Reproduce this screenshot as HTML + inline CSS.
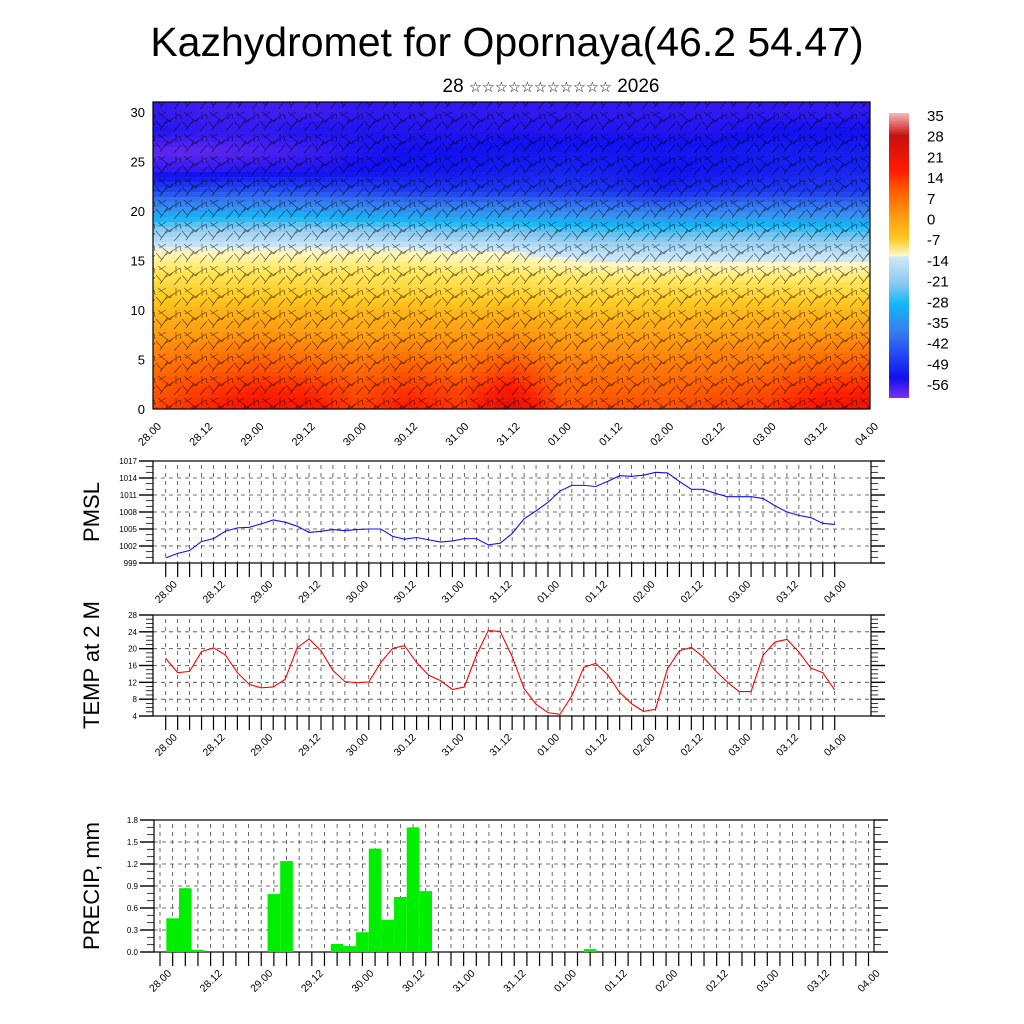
<!DOCTYPE html>
<html><head><meta charset="utf-8"><title>Kazhydromet for Opornaya</title>
<style>
html,body{margin:0;padding:0;background:#fff;width:1024px;height:1024px;overflow:hidden}
svg{display:block;font-family:"Liberation Sans","DejaVu Sans",sans-serif}
</style></head>
<body>
<svg id="chart" xmlns="http://www.w3.org/2000/svg" width="1024" height="1024" viewBox="0 0 1024 1024">
<defs>
<clipPath id="fieldClip"><rect x="153" y="102" width="717" height="307"/></clipPath>
<pattern id="barbs" width="26" height="22" patternUnits="userSpaceOnUse">
<g stroke="#000" stroke-width="0.7" stroke-opacity="0.6" fill="none">
<path d="M2 2 L14 12 M14 12 L17 8 M8 14 L24 4 M24 4 L25 9 M4 20 L12 9 M18 21 L25 13 M0 11 L6 18 M20 2 L20 10 M10 2 L3 6"/>
</g>
</pattern>
<linearGradient id="cbar" x1="0" y1="0" x2="0" y2="1">
<stop offset="0" stop-color="#f8b8b8"/><stop offset="0.08" stop-color="#c81010"/>
<stop offset="0.2" stop-color="#ff1a00"/><stop offset="0.27" stop-color="#ff5a00"/>
<stop offset="0.36" stop-color="#ff9a10"/><stop offset="0.44" stop-color="#ffc820"/>
<stop offset="0.5" stop-color="#fff8c8"/><stop offset="0.505" stop-color="#d0e8f8"/>
<stop offset="0.6" stop-color="#88c8f0"/><stop offset="0.67" stop-color="#10b8f8"/>
<stop offset="0.76" stop-color="#3880f0"/><stop offset="0.86" stop-color="#2040f0"/>
<stop offset="0.93" stop-color="#1010f0"/><stop offset="1" stop-color="#8030f0"/>
</linearGradient>
</defs>
<text x="507" y="56" font-size="41" text-anchor="middle">Kazhydromet for Opornaya(46.2 54.47)</text>
<text x="551" y="92" font-size="19" text-anchor="middle">28 <tspan font-size="14.5">☆☆☆☆☆☆☆☆☆☆☆</tspan> 2026</text>
<g id="contour"></g>
<g id="colorbar">
<rect x="889" y="113" width="20" height="285" fill="url(#cbar)"/>
</g>
<g id="pmsl"></g>
<g id="temp"></g>
<g id="precip"></g>
<text transform="translate(99,512) rotate(-90)" font-size="22" text-anchor="middle">PMSL</text>
<text transform="translate(99,665) rotate(-90)" font-size="22" text-anchor="middle">TEMP at 2 M</text>
<text transform="translate(99,886) rotate(-90)" font-size="22" text-anchor="middle">PRECIP, mm</text>
</svg>
<script>
// ---- data ----
const timeLabels = ['28.00','28.12','29.00','29.12','30.00','30.12','31.00','31.12','01.00','01.12','02.00','02.12','03.00','03.12','04.00'];
const pmslValues = [999.9,1000.7,1001.2,1002.8,1003.3,1004.6,1005.2,1005.3,1005.9,1006.6,1006.2,1005.5,1004.4,1004.6,1004.9,1004.7,1004.9,1005.0,1005.0,1003.7,1003.2,1003.5,1003.1,1002.7,1002.9,1003.3,1003.3,1002.2,1002.5,1004.2,1006.8,1008.2,1009.7,1011.7,1012.7,1012.7,1012.5,1013.4,1014.4,1014.3,1014.5,1015.0,1014.9,1013.4,1012.0,1012.0,1011.3,1010.7,1010.7,1010.7,1010.4,1009.1,1008.0,1007.4,1007.0,1006.0,1005.8];
const pmslTicks = [999,1002,1005,1008,1011,1014,1017];
const tempValues = [17.7,14.3,14.6,19.3,20.2,18.5,14.3,11.5,10.7,10.9,12.7,20.2,22.3,19.5,14.8,12.2,11.9,12.1,16.7,20.1,20.7,16.7,13.7,12.4,10.3,10.9,18.4,24.3,24.1,18.1,10.5,6.8,4.8,4.4,8.8,15.6,16.5,13.8,9.6,6.9,5.1,5.6,15.2,19.5,20.3,18.0,14.8,12.1,9.8,9.8,18.4,21.6,22.2,19.2,15.4,14.3,10.2];
const tempTicks = [4,8,12,16,20,24,28];
const precipIndex = [1,2,3,9,10,14,15,16,17,18,19,20,21,34];
const precipValues = [0.46,0.87,0.03,0.79,1.24,0.11,0.08,0.27,1.41,0.44,0.75,1.70,0.83,0.04];
const precipTicks = ['0.0','0.3','0.6','0.9','1.2','1.5','1.8'];
const heightTicks = [0,5,10,15,20,25,30];
const cbarLabels = ['35','28','21','14','7','0','-7','-14','-21','-28','-35','-42','-49','-56'];
const fieldLevels = [0,2,4,6,8,10,12,14,16,18,20,22,24,26,28,30];
const fieldTemps = [
[16,20,24,23,17,22,18,28,15,16,15,17,18,24,25],
[14,17,20,19,15,18,16,22,13,13,13,14,15,19,20],
[12,13,15,14,12,14,12,16,11,11,11,11,12,14,15],
[9,10,11,10,9,10,9,11,8,8,8,9,9,10,11],
[6,6,7,6,5,6,6,7,5,5,5,5,6,6,7],
[2,3,3,3,2,3,2,3,1,1,1,2,2,2,2],
[-2,-2,-2,-2,-3,-3,-3,-3,-4,-4,-4,-4,-4,-4,-4],
[-7,-7,-7,-7,-7,-7,-8,-8,-9,-10,-10,-10,-10,-10,-10],
[-12,-12,-12,-12,-12,-12,-13,-13,-15,-16,-16,-16,-16,-16,-16],
[-20,-19,-19,-19,-20,-21,-22,-22,-24,-25,-25,-24,-24,-25,-25],
[-34,-33,-32,-33,-34,-35,-36,-36,-37,-38,-40,-38,-37,-38,-38],
[-48,-47,-46,-47,-48,-50,-50,-50,-50,-51,-53,-51,-50,-50,-50],
[-58,-58,-57,-57,-56,-55,-55,-54,-53,-54,-56,-55,-54,-53,-53],
[-61,-61,-60,-59,-57,-56,-56,-55,-55,-55,-55,-55,-54,-54,-54],
[-57,-58,-58,-57,-57,-57,-57,-57,-57,-57,-57,-57,-56,-56,-56],
[-58,-59,-59,-59,-58,-58,-58,-58,-58,-58,-58,-58,-58,-58,-58]
];
// ---- helpers ----
const NS='http://www.w3.org/2000/svg';
function mk(tag,attrs,parent){const e=document.createElementNS(NS,tag);for(const k in attrs)e.setAttribute(k,attrs[k]);parent.appendChild(e);return e;}
function hex(c){return [parseInt(c.slice(1,3),16),parseInt(c.slice(3,5),16),parseInt(c.slice(5,7),16)];}
const cmapV=[38,30,21,14,7,0,-7,-12,-13,-21,-28,-35,-42,-49,-56,-63];
const cmapC=['#f8b8b8','#c81010','#ff1a00','#ff5a00','#ff9a10','#ffc820','#ffe860','#fff8c8','#d0e8f8','#88c8f0','#10b8f8','#3890f0','#3070f0','#2040f0','#1010f0','#8030f0'];
function colorOf(v){
  if(v>=cmapV[0])return cmapC[0];
  for(let i=0;i<cmapV.length-1;i++){
    if(v<=cmapV[i]&&v>=cmapV[i+1]){const t=(cmapV[i]-v)/(cmapV[i]-cmapV[i+1]);const a=hex(cmapC[i]),b=hex(cmapC[i+1]);
      return 'rgb('+a.map((x,j)=>Math.round(x+(b[j]-x)*t)).join(',')+')';}
  }
  return cmapC[cmapC.length-1];
}
// ---- contour panel ----
(function(){
  const g=document.getElementById('contour');
  const L=153,R=870,T=102,B=409;
  const xS=i=>L+i*(R-L)/14;
  const yS=z=>B-z*9.9;
  const field=mk('g',{'clip-path':'url(#fieldClip)'},g);
  
  
  const cw=6,ch=5;
  for(let py=T;py<B;py+=ch){
    const z=Math.min(30,Math.max(0,(B-(py+ch/2))/9.9));
    let k=0;while(k<fieldLevels.length-2&&z>fieldLevels[k+1])k++;
    const tz=(z-fieldLevels[k])/(fieldLevels[k+1]-fieldLevels[k]);
    for(let px=L;px<R;px+=cw){
      const ti=Math.min(14,((px+cw/2)-L)/((R-L)/14));
      const c=Math.min(13,Math.floor(ti)),tt=ti-c;
      const v0=fieldTemps[k][c]+(fieldTemps[k][c+1]-fieldTemps[k][c])*tt;
      const v1=fieldTemps[k+1][c]+(fieldTemps[k+1][c+1]-fieldTemps[k+1][c])*tt;
      const r=mk('rect',{x:px,y:py,width:cw+0.6,height:ch+0.6,fill:colorOf(v0+(v1-v0)*tz)},field);
      
      
    }
  }
  const barbs=mk('rect',{x:L,y:T,width:R-L,height:B-T,fill:'url(#barbs)'},g);
  
  
  const fr=mk('rect',{x:L,y:T,width:R-L,height:B-T,fill:'none',stroke:'#000','stroke-width':1.2},g);
  
  
  heightTicks.forEach(h=>{
    const t=mk('text',{x:L-8,y:yS(h)+5,'font-size':13,'text-anchor':'end'},g);t.textContent=h;
    
    
  });
  timeLabels.forEach((lab,i)=>{
    const x=xS(i);
    const t=mk('text',{transform:'translate('+(x+9)+',427) rotate(-45)','font-size':11,'text-anchor':'end'},g);t.textContent=lab;
    
    
  });
})();
(function(){
  const g=document.getElementById('colorbar');
  cbarLabels.forEach((lab,i)=>{
    const t=mk('text',{x:927,y:121+i*20.7,'font-size':15},g);t.textContent=lab;
    
    
  });
})();
function axesPanel(g,o){
  const {L,R,T,B,ymin,ymax,majors,minorStep,x0,dx}=o;
  const yS=v=>B-(v-ymin)/(ymax-ymin)*(B-T);
  const grid=mk('g',{stroke:'#444','stroke-width':0.8,'stroke-dasharray':'4,4',fill:'none'},g);
  
  
  for(let i=0;i<=56;i++){const x=x0+i*dx;const l=mk('line',{x1:x,x2:x,y1:T+4,y2:B},grid);
    
    }
  majors.forEach(m=>{const v=parseFloat(m);if(v>ymin&&v<ymax){const l=mk('line',{x1:L,x2:R,y1:yS(v),y2:yS(v)},grid);
    
    }});
  const ax=mk('g',{stroke:'#000',fill:'none'},g);
  
  
  for(let v=ymin;v<=ymax+1e-6;v+=minorStep){
    const isMaj=majors.some(m=>Math.abs(parseFloat(m)-v)<1e-6);
    const len=isMaj?14:7,w=isMaj?1.4:0.8;
    const a=mk('line',{x1:L-len,x2:L,y1:yS(v),y2:yS(v),'stroke-width':w},ax);
    
    
    const b=mk('line',{x1:R,x2:R+len,y1:yS(v),y2:yS(v),'stroke-width':w},ax);
    
    
  }
  majors.forEach(m=>{const t=mk('text',{x:L-16,y:yS(parseFloat(m))+3,'font-size':8,'text-anchor':'end',fill:'#000',stroke:'none'},g);t.textContent=m;
    
    });
  for(let i=0;i<=56;i++){const x=x0+i*dx;const l=mk('line',{x1:x,x2:x,y1:B,y2:B+14,'stroke-width':1.2},ax);
    
    }
  timeLabels.forEach((lab,i)=>{const x=x0+i*4*dx;
    const t=mk('text',{transform:'translate('+(x+12)+','+(B+22)+') rotate(-45)','font-size':10.5,'text-anchor':'end'},g);t.textContent=lab;
    
    });
  const fr=mk('rect',{x:L,y:T,width:R-L,height:B-T,fill:'none',stroke:'#000','stroke-width':1.2},g);
  
  
  return yS;
}
(function(){
  const g=document.getElementById('pmsl');
  const x0=165.7,dx=(834.7-165.7)/56;
  const yS=axesPanel(g,{L:153,R:871,T:461,B:563,ymin:999,ymax:1017,majors:pmslTicks.map(String),minorStep:1,x0,dx});
  const p=mk('polyline',{points:pmslValues.map((v,i)=>(x0+i*dx)+','+yS(v)).join(' '),fill:'none',stroke:'#1010ff','stroke-width':1.1},g);
  
  
})();
(function(){
  const g=document.getElementById('temp');
  const x0=165.7,dx=(834.7-165.7)/56;
  const yS=axesPanel(g,{L:153,R:871,T:615,B:716,ymin:4,ymax:28,majors:tempTicks.map(String),minorStep:1,x0,dx});
  const p=mk('polyline',{points:tempValues.map((v,i)=>(x0+i*dx)+','+yS(v)).join(' '),fill:'none',stroke:'#ff0000','stroke-width':1.1},g);
  
  
})();
(function(){
  const g=document.getElementById('precip');
  const x0=160,dx=(868.5-160)/56;
  const yS=axesPanel(g,{L:154,R:874,T:820,B:952,ymin:0,ymax:1.8,majors:precipTicks,minorStep:0.1,x0,dx});
  const bars=mk('g',{},g);
  
  
  precipValues.forEach((v,k)=>{
    const xc=x0+precipIndex[k]*dx;
    const r=mk('rect',{x:xc-dx/2,y:yS(v),width:dx,height:952-yS(v),fill:'#00ee00'},bars);
    
    
  });
})();
</script>
</body></html>
